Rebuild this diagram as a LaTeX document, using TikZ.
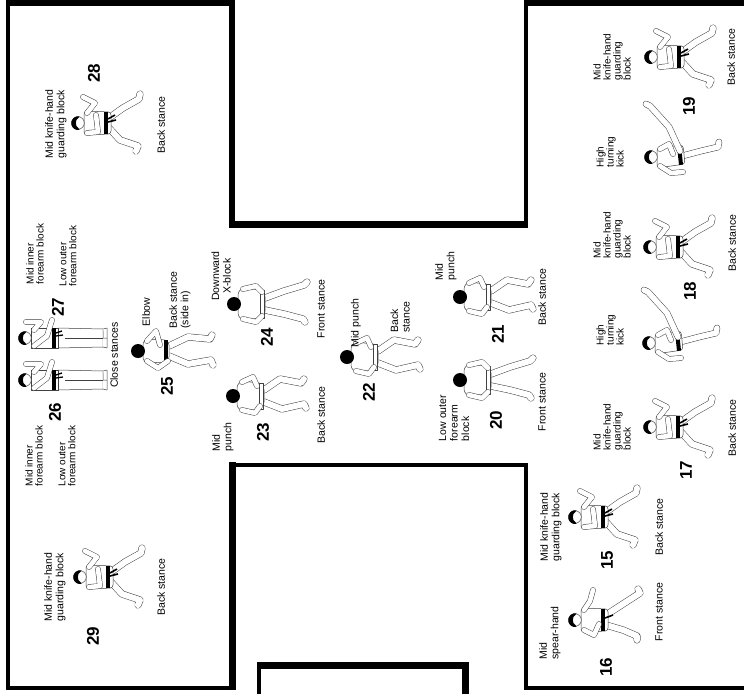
\documentclass[tikz,border=0pt]{standalone}
\usepackage{fontspec}
\setmainfont{Liberation Sans}
\newcommand\hairhead{%
  \draw[bodyline] (0,0) circle (6.3);
  \fill[black] (-6.9,-1.5) arc (192:-12:6.9) -- (5.2,-0.5) .. controls (4,3) and (-4,3) .. (-5.2,-0.5) -- cycle;}
\newcommand\solidhead{\fill[black] (0,0) circle (7);}
\tikzset{
  lbl/.style={rotate=90, font=\fontsize{10.5}{11.5}\selectfont, align=left, inner sep=0pt},
  lbltight/.style={lbl, font=\fontsize{10}{10}\selectfont},
  lblc/.style={lbl, align=center},
  num/.style={rotate=90, font=\fontsize{17}{17}\selectfont\bfseries, inner sep=0pt},
  limb/.style={draw=black!75, double=white, double distance=4.6pt, line width=0.5pt, line cap=round, line join=round},
  bodyline/.style={draw=black!75, line width=0.5pt, fill=white, line join=round},
  pics/blockbs/.style={code={\begin{scope}[x=1pt,y=1pt]
    \draw[limb, double distance=6pt] (5,-31) -- (15,-45) -- (24,-61) -- (29,-62);
    \draw[limb, double distance=6pt] (-5,-31) -- (-17,-42) -- (-23,-60) -- (-28,-58);
    \draw[bodyline, rounded corners=3pt] (-12,-6) -- (12,-6) -- (11,-33) -- (-11,-33) -- cycle;
    \fill[black] (-11,-26) rectangle (11,-30);
    \draw[line width=1.6pt] (1,-30) -- (3,-38) (4,-30) -- (8,-37);
    \draw[limb] (10,-9) -- (20,-17) -- (26,-5);
    \draw[limb] (-10,-9) -- (-9,-20) -- (8,-18);
    \hairhead
  \end{scope}}},
  pics/kickpic/.style={code={\begin{scope}[x=1pt,y=1pt]
    \draw[limb, double distance=5.5pt] (1,-31) -- (6,-50) -- (10,-67) -- (15,-68);
    \draw[bodyline, rounded corners=3pt] (-11,-6) -- (9,-6) -- (12,-32) -- (-7,-34) -- cycle;
    \fill[black] (-8,-28) -- (11,-26) -- (11.5,-30) -- (-7.5,-32) -- cycle;
    \draw[limb, double distance=5.5pt] (6,-29) -- (30,-18) -- (51,1) -- (53,5);
    \draw[limb] (-9,-9) -- (-16,-20) -- (-15,-32);
    \draw[limb] (8,-9) -- (13,-18) -- (3,-22);
    \hairhead
  \end{scope}}},
  pics/rearfront/.style={code={\begin{scope}[x=1pt,y=1pt]
    \draw[limb, double distance=6pt] (6,-31) -- (13,-50) -- (19,-70) -- (22,-73);
    \draw[limb, double distance=6pt] (-6,-31) -- (-10,-50) -- (-15,-69) -- (-18,-71);
    \draw[bodyline, rounded corners=7pt] (-16,-4) -- (16,-4) -- (14,-31) -- (-14,-31) -- cycle;
    \draw[bodyline] (-14,-26) -- (14,-26) -- (14,-30) -- (-14,-30) -- cycle;
    \draw[limb] (-15,-9) -- (-18,-22) -- (-12,-28);
    \draw[limb] (15,-9) -- (18,-22) -- (12,-28);
    \solidhead
  \end{scope}}},
  pics/rearback/.style={code={\begin{scope}[x=1pt,y=1pt]
    \draw[limb, double distance=6pt] (6,-31) -- (17,-47) -- (13,-68) -- (17,-71);
    \draw[limb, double distance=6pt] (-6,-31) -- (-13,-49) -- (-8,-71) -- (-12,-73);
    \draw[bodyline, rounded corners=7pt] (-15,-4) -- (15,-4) -- (13,-31) -- (-13,-31) -- cycle;
    \draw[bodyline] (-13,-26) -- (13,-26) -- (13,-30) -- (-13,-30) -- cycle;
    \draw[limb] (-14,-9) -- (-17,-22) -- (-10,-27);
    \draw[limb] (14,-9) -- (19,-20) -- (10,-24);
    \solidhead
  \end{scope}}},
  pics/elbowpic/.style={code={\begin{scope}[x=1pt,y=1pt]
    \draw[limb, double distance=6pt] (5,-31) -- (14,-50) -- (12,-72) -- (16,-74);
    \draw[limb, double distance=6pt] (-5,-31) -- (-13,-50) -- (-9,-73) -- (-14,-75);
    \draw[bodyline, rounded corners=5pt] (-12,-5) -- (12,-5) -- (11,-31) -- (-11,-31) -- cycle;
    \fill[black] (-11,-26) rectangle (11,-30);
    \draw[limb] (10,-9) -- (20,-18) -- (6,-22);
    \draw[limb] (-10,-9) -- (-17,-20) -- (-10,-30);
    \solidhead
  \end{scope}}},
  pics/closest/.style={code={\begin{scope}[x=1pt,y=1pt]
    \draw[bodyline] (-10,-33) -- (10,-33) -- (9,-78) -- (-9,-78) -- cycle;
    \draw[bodyline] (0,-40) -- (0,-78);
    \draw[bodyline] (-9,-78) -- (-10,-82) -- (0,-82) -- (0,-78);
    \draw[bodyline] (9,-78) -- (10,-82) -- (0,-82);
    \draw[bodyline] (-10,-6) -- (10,-6) -- (10,-33) -- (-10,-33) -- cycle;
    \fill[black] (-10,-27) rectangle (10,-31);
    \draw[line width=1.3pt] (2,-31) -- (3,-38) (5,-31) -- (7,-37);
    \draw[limb] (8,-9) -- (16,-16) -- (16,-1);
    \draw[limb] (-8,-9) -- (2,-22) -- (18,-27);
    \hairhead
  \end{scope}}},
  pics/spearpic/.style={code={\begin{scope}[x=1pt,y=1pt]
    \draw[limb, double distance=6pt] (5,-31) -- (16,-48) -- (27,-65) -- (31,-63);
    \draw[limb, double distance=6pt] (-5,-31) -- (-10,-48) -- (-16,-62) -- (-20,-62);
    \draw[bodyline, rounded corners=3pt] (-12,-6) -- (12,-6) -- (11,-33) -- (-11,-33) -- cycle;
    \fill[black] (-11,-26) rectangle (11,-30);
    \draw[line width=1.6pt] (2,-30) -- (5,-38);
    \draw[limb] (10,-9) -- (19,-15) -- (30,-18);
    \draw[limb] (-10,-9) -- (-15,-19) -- (-4,-24);
    \hairhead
  \end{scope}}}
}
\begin{document}
\begin{tikzpicture}[x=1pt,y=-1pt]
\useasboundingbox (0,0) rectangle (744,694);
% walls
\draw[line width=3.5pt] (8,690) -- (8,3);
\draw[line width=6pt] (6,3) -- (235,3);
\draw[line width=6pt] (232,0) -- (232,227);
\draw[line width=7pt] (229,224) -- (528,224);
\draw[line width=3.5pt] (526,227) -- (526,1);
\draw[line width=6pt] (524,3) -- (744,3);
\draw[line width=3.5pt] (6,688) -- (235,688);
\draw[line width=7pt] (232,690) -- (232,462);
\draw[line width=4.5pt] (229,465) -- (528,465);
\draw[line width=3.5pt] (526,463) -- (526,690);
\draw[line width=3.5pt] (524,688) -- (744,688);
\draw[line width=3.5pt] (259,694) -- (259,663);
\draw[line width=7pt] (257,665) -- (468,665);
\draw[line width=7pt] (465,662) -- (465,694);
% 28
\pic[rotate=90] at (78,123) {blockbs};
\node[num] (n28) at (94,73) {28};
\node[lbl] (t28) at (56,124) {Mid knife-hand\\guarding block};
\node[lbl] (s28) at (161,125) {Back stance};
% 27
\pic[rotate=90] at (25,338) {closest};
\node[num] (n27) at (58,307) {27};
\node[lbltight] (t27a) at (35,254) {Mid inner\\forearm block};
\node[lbltight] (t27b) at (68,256) {Low outer\\forearm block};
% 26
\pic[rotate=90] at (25,380) {closest};
\node[num] (n26) at (55,412) {26};
\node[lbltight] (t26a) at (34,456) {Mid inner\\forearm block};
\node[lbltight] (t26b) at (67,456) {Low outer\\forearm block};
\node[lbl] (cs) at (114,355) {Close stances};
% 25
\pic[rotate=90] at (138,351) {elbowpic};
\node[num] (n25) at (167,386) {25};
\node[lbl] (t25) at (146,312) {Elbow};
\node[lbl] (s25) at (180,300) {Back stance\\(side in)};
% 24
\pic[rotate=90] at (234,304) {rearfront};
\node[num] (n24) at (267,337) {24};
\node[lblc] (t24) at (221,276) {Downward\\X-block};
\node[lbl] (s24) at (321,309) {Front stance};
% 23
\pic[rotate=90] at (233,396) {rearback};
\node[num] (n23) at (263,432) {23};
\node[lbl] (t23) at (223,437) {Mid\\punch};
\node[lbl] (s23) at (321,415) {Back stance};
% 22
\pic[rotate=90] at (347,357) {rearback};
\node[num] (n22) at (369,392) {22};
\node[lbl] (t22) at (356,323) {Mid punch};
\node[lbl] (s22) at (400,317) {Back\\stance};
% 21
\pic[rotate=90] at (460,297) {rearback};
\node[num] (n21) at (498,334) {21};
\node[lbl] (t21) at (446,266) {Mid\\punch};
\node[lbl] (s21) at (542,297) {Back stance};
% 20
\pic[rotate=90] at (460,380) {rearfront};
\node[num] (n20) at (496,420) {20};
\node[lbl] (t20) at (454,418) {Low outer\\forearm\\block};
\node[lbl] (s20) at (542,402) {Front stance};
% 19
\pic[rotate=90] at (651,57) {blockbs};
\node[num] (n19) at (689,106) {19};
\node[lbltight] (t19b) at (612,57) {Mid\\knife-hand\\guarding\\block};
\node[lbl] (s19b) at (731,57) {Back stance};
\pic[rotate=90] at (651,157) {kickpic};
\node[lbltight] (t19a) at (610,152) {High\\turning\\kick};
% 18
\pic[rotate=90] at (650,247) {blockbs};
\node[num] (n18) at (690,291) {18};
\node[lbltight] (t18b) at (612,235) {Mid\\knife-hand\\guarding\\block};
\node[lbl] (s18b) at (732,243) {Back stance};
\pic[rotate=90] at (649,343) {kickpic};
\node[lbltight] (t18a) at (610,330) {High\\turning\\kick};
% 17
\pic[rotate=90] at (650,427) {blockbs};
\node[num] (n17) at (686,470) {17};
\node[lbltight] (t17) at (612,427) {Mid\\knife-hand\\guarding\\block};
\node[lbl] (s17) at (732,428) {Back stance};
% 15
\pic[rotate=90] at (575,517) {blockbs};
\node[num] (n15) at (607,560) {15};
\node[lbl] (t15) at (551,527) {Mid knife-hand\\guarding block};
\node[lbl] (s15) at (659,527) {Back stance};
% 16
\pic[rotate=90] at (575,620) {spearpic};
\node[num] (n16) at (606,667) {16};
\node[lbl] (t16) at (550,633) {Mid\\spear-hand};
\node[lbl] (s16) at (659,612) {Front stance};
% 29
\pic[rotate=90] at (80,577) {blockbs};
\node[num] (n29) at (93,636) {29};
\node[lbl] (t29) at (55,587) {Mid knife-hand\\guarding block};
\node[lbl] (s29) at (161,587) {Back stance};
\end{tikzpicture}
\end{document}
